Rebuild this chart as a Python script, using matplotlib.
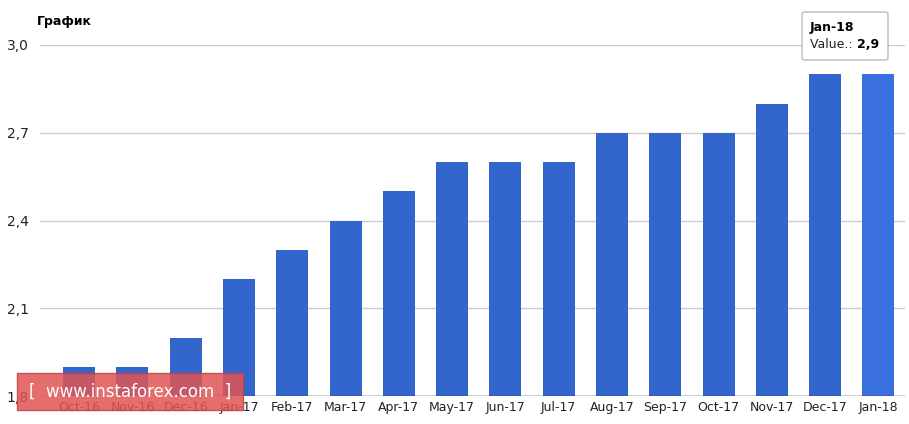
import matplotlib.pyplot as plt
from matplotlib.patches import FancyBboxPatch

months = ["Oct-16", "Nov-16", "Dec-16", "Jan-17", "Feb-17", "Mar-17", "Apr-17", "May-17",
          "Jun-17", "Jul-17", "Aug-17", "Sep-17", "Oct-17", "Nov-17", "Dec-17", "Jan-18"]
values = [1.9, 1.9, 2.0, 2.2, 2.3, 2.4, 2.5, 2.6, 2.6, 2.6, 2.7, 2.7, 2.7, 2.8, 2.9, 2.9]
yticks = [1.8, 2.1, 2.4, 2.7, 3.0]
ytick_labels = ["1,8", "2,1", "2,4", "2,7", "3,0"]

W, H = 909, 424
fig = plt.figure(figsize=(W / 100, H / 100), dpi=100)
ax = fig.add_axes([40 / W, (H - 396) / H, (905 - 40) / W, (396 - 45) / H])

colors = ["#3366cc"] * len(values)
colors[-1] = "#3a6fe0"
x = list(range(len(months)))
ax.bar(x, values, width=0.6, color=colors, zorder=2)
ax.set_xlim(-0.735, len(months) - 0.5)
ax.set_ylim(1.8, 3.0)
ax.set_yticks(yticks)
ax.set_yticklabels(ytick_labels)
ax.set_xticks(x)
ax.set_xticklabels(months)
ax.grid(axis="y", color="#cccccc", lw=1, zorder=0)
for s in ax.spines.values():
    s.set_visible(False)
ax.axhline(1.8, color="#333333", lw=1, zorder=3)
ax.tick_params(length=0, labelsize=9, colors="#222222")
ax.tick_params(axis="y", pad=8, labelsize=10)

fig.text(37 / W, 1 - 22 / H, "График", fontsize=9, fontweight="bold", va="center")

# tooltip
tip = FancyBboxPatch((802 / W, 1 - 60 / H), 86 / W, 48 / H, transform=fig.transFigure,
                     boxstyle="round,pad=0,rounding_size=0.004", fc="white", ec="#bbbbbb", lw=1)
fig.patches.append(tip)
fig.text(810 / W, 1 - 27 / H, "Jan-18", fontsize=9, fontweight="bold", va="center")
fig.text(810 / W, 1 - 45 / H, "Value.: ", fontsize=9, va="center", color="#222222")
fig.text(857 / W, 1 - 45 / H, "2,9", fontsize=9, fontweight="bold", va="center")

# watermark
wm = FancyBboxPatch((17 / W, 1 - 410 / H), 226 / W, 37 / H, transform=fig.transFigure,
                    boxstyle="square,pad=0", fc="#e05555", ec="#c04040", alpha=0.85, zorder=5)
fig.patches.append(wm)
fig.text(130 / W, 1 - 392 / H, "[  www.instaforex.com  ]", fontsize=12, color="white",
         ha="center", va="center", zorder=6)

fig.savefig("out.png", dpi=100)
